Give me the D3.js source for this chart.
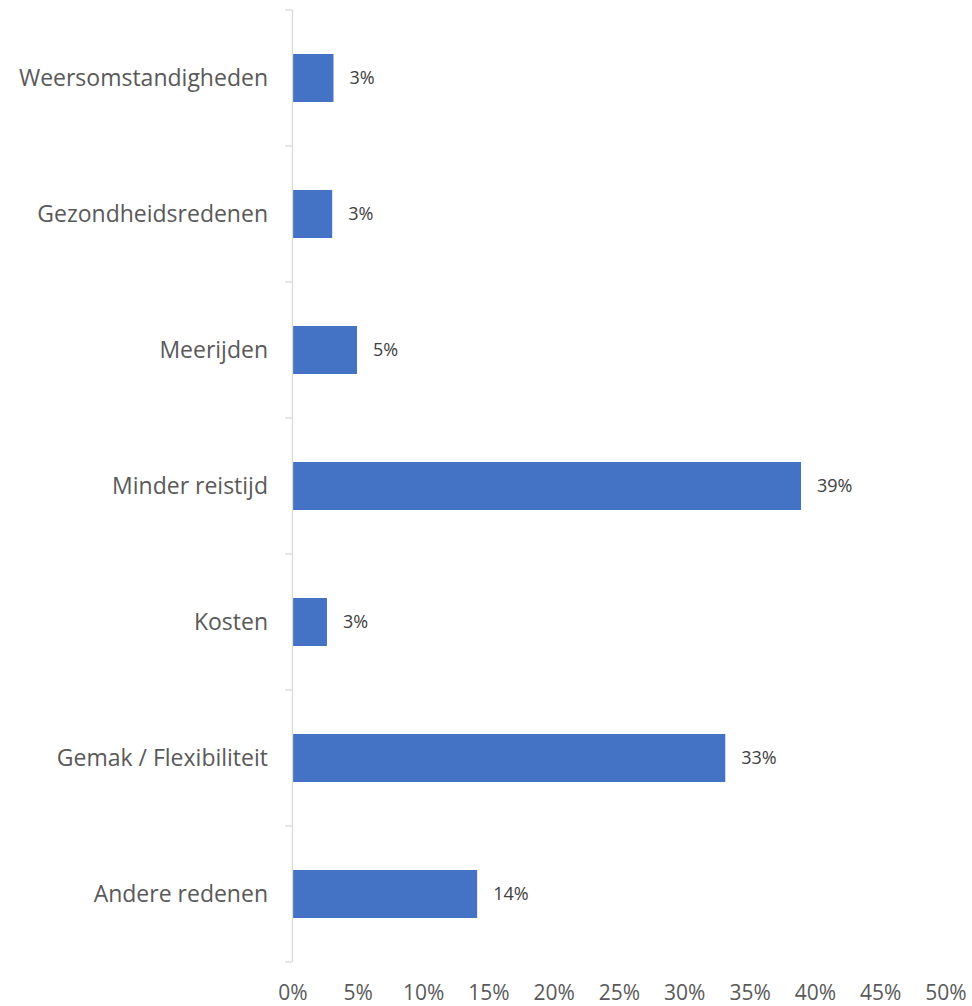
<!DOCTYPE html>
<html>
<head>
<meta charset="utf-8">
<script src="https://cdn.jsdelivr.net/npm/d3@7"></script>
<style>
  html, body { margin: 0; padding: 0; background: #fff; }
  svg { display: block; }
</style>
</head>
<body>
<svg id="chart" width="972" height="1006"></svg>
<script>
// Reasons, top to bottom
const categories = [
  "Weersomstandigheden",
  "Gezondheidsredenen",
  "Meerijden",
  "Minder reistijd",
  "Kosten",
  "Gemak / Flexibiliteit",
  "Andere redenen"
];
// Share of respondents (fraction)
const values = [0.031, 0.030, 0.049, 0.389, 0.026, 0.331, 0.141];
const xTicks = [0, 0.05, 0.10, 0.15, 0.20, 0.25, 0.30, 0.35, 0.40, 0.45, 0.50];

(function draw() {
  const svg = d3.select("#chart");
  const plotLeft = 293, plotRight = 946, plotTop = 10, plotBottom = 962;
  const font = "'Open Sans', 'Noto Sans', sans-serif";

  const x = d3.scaleLinear().domain([0, 0.5]).range([plotLeft, plotRight]);
  const pad = 0.647;
  const y = d3.scaleBand().domain(categories).range([plotTop, plotBottom])
    .paddingInner(pad).paddingOuter(pad / 2);

  const step = y.step();
  const halfGap = step * pad / 2;
  const rows = categories.map((c, i) => ({ c, v: values[i] }));

  // Bars
  svg.append("g").selectAll("rect")
    .data(rows)
    .join("rect")
    .attr("x", x(0))
    .attr("y", d => y(d.c))
    .attr("width", d => x(d.v) - x(0))
    .attr("height", y.bandwidth())
    .attr("fill", "#4472C4");

  // Category axis: line with ticks at band boundaries
  const ax = svg.append("g").attr("stroke", "#d9d9d9").attr("stroke-width", 1.3);
  ax.append("line")
    .attr("x1", plotLeft - 0.5).attr("x2", plotLeft - 0.5)
    .attr("y1", plotTop).attr("y2", plotBottom);
  const bounds = categories.map(c => y(c) - halfGap)
    .concat([y(categories[categories.length - 1]) + y.bandwidth() + halfGap]);
  ax.selectAll("line.tick").data(bounds).join("line")
    .attr("class", "tick")
    .attr("x1", plotLeft - 8).attr("x2", plotLeft - 0.5)
    .attr("y1", d => d).attr("y2", d => d);

  // Category labels
  svg.append("g").selectAll("text")
    .data(categories).join("text")
    .attr("x", plotLeft - 25)
    .attr("y", d => y(d) + y.bandwidth() / 2)
    .attr("dy", "0.35em")
    .attr("text-anchor", "end")
    .attr("font-family", font)
    .attr("font-size", 23)
    .attr("fill", "#595959")
    .text(d => d);

  // Value labels
  const fmt = d3.format(".0%");
  svg.append("g").selectAll("text")
    .data(rows)
    .join("text")
    .attr("x", d => x(d.v) + 16)
    .attr("y", d => y(d.c) + y.bandwidth() / 2)
    .attr("dy", "0.35em")
    .attr("font-family", font)
    .attr("font-size", 18)
    .attr("fill", "#404040")
    .text(d => fmt(d.v));

  // Value axis labels
  svg.append("g").selectAll("text")
    .data(xTicks).join("text")
    .attr("x", d => x(d))
    .attr("y", 1000)
    .attr("text-anchor", "middle")
    .attr("font-family", font)
    .attr("font-size", 21)
    .attr("fill", "#595959")
    .text(d => fmt(d));
})();
</script>
</body>
</html>
